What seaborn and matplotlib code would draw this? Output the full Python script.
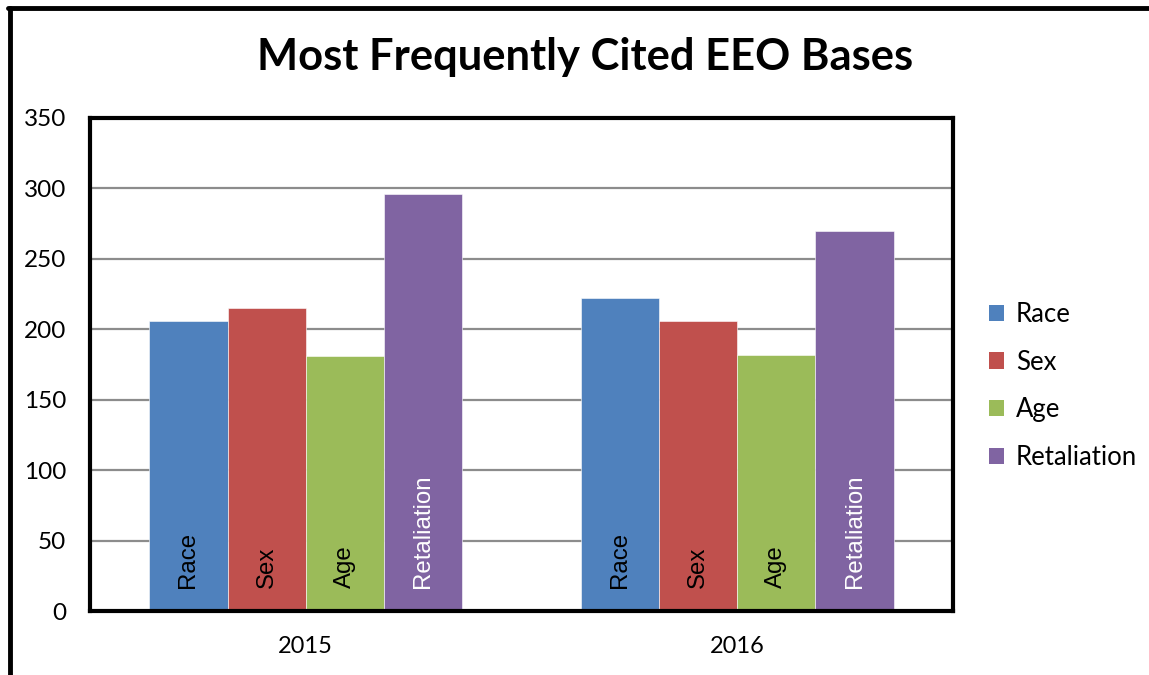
import matplotlib
matplotlib.use("Agg")
import matplotlib.pyplot as plt
import seaborn as sns
import pandas as pd
from matplotlib.lines import Line2D
from matplotlib.patches import Patch

years = ["2015", "2016"]
bases = ["Race", "Sex", "Age", "Retaliation"]
race = [206, 222]
sex = [215, 206]
age = [181, 182]
retaliation = [296, 270]
colors = ["#4F81BD", "#C0504D", "#9BBB59", "#8064A2"]
label_colors = ["black", "black", "black", "white"]
yticks = [0, 50, 100, 150, 200, 250, 300, 350]

rows = []
for b, vals in zip(bases, [race, sex, age, retaliation]):
    for y, v in zip(years, vals):
        rows.append({"Year": y, "Basis": b, "Count": v})
df = pd.DataFrame(rows)

sns.set_theme(style="white")
plt.rcParams["font.family"] = ["Liberation Sans", "DejaVu Sans"]
plt.rcParams["text.color"] = "black"
plt.rcParams["xtick.color"] = "black"
plt.rcParams["ytick.color"] = "black"

fig = plt.figure(figsize=(11.49, 6.75), dpi=100)
ax = fig.add_axes([90/1149, 1-611/675, (953-90)/1149, (611-118)/675])

sns.barplot(data=df, x="Year", y="Count", hue="Basis", hue_order=bases,
            order=years, palette=colors, width=0.725, gap=0, dodge=True,
            saturation=1, ax=ax, legend=False, errorbar=None,
            edgecolor="white", linewidth=0.4)

ax.set_ylim(0, 350)
ax.set_xlim(-0.5, 1.5)
ax.set_yticks(yticks)
ax.set_yticklabels([str(t) for t in yticks], fontfamily="Lato", fontsize=17.5)
ax.set_xticks([0, 1])
ax.set_xticklabels(years, fontfamily="Lato", fontsize=17)
ax.tick_params(axis="y", length=0, pad=17, colors="black")
ax.tick_params(axis="x", length=0, pad=18, colors="black")
ax.set_xlabel("")
ax.set_ylabel("")
ax.yaxis.grid(True, color="#8c8c8c", linewidth=1.6)
ax.set_axisbelow(True)
for s in ax.spines.values():
    s.set_visible(True)
    s.set_color("black")
    s.set_linewidth(3)

# labels inside bars
for cont, lc, b in zip(ax.containers, label_colors, bases):
    for patch in cont:
        xc = patch.get_x() + patch.get_width() / 2
        ax.text(xc, 16, b, rotation=90, ha="center", va="bottom",
                color=lc, fontsize=17.3, fontfamily="Liberation Sans")

handles = [Patch(facecolor=c, edgecolor="none") for c in colors]
leg = fig.legend(handles, bases, loc="center left",
                 bbox_to_anchor=(989/1149, 1-386/675), frameon=False,
                 handlelength=0.6, handleheight=0.6,
                 handletextpad=0.45, labelspacing=0.88,
                 borderaxespad=0, borderpad=0,
                 prop={"family": "Lato", "size": 18.5})

fig.text(585/1149, 1-57/675, "Most Frequently Cited EEO Bases",
         ha="center", va="center", fontsize=31.3, fontweight="bold",
         fontfamily="Lato", color="black")

# outer border
fig.add_artist(Line2D([10/1149, 10/1149], [0, 1-8/675], color="black",
                      linewidth=3.5, transform=fig.transFigure))
fig.add_artist(Line2D([8/1149, 1.0], [1-8/675, 1-8/675], color="black",
                      linewidth=3.5, transform=fig.transFigure))

fig.savefig("out.png", dpi=100)
